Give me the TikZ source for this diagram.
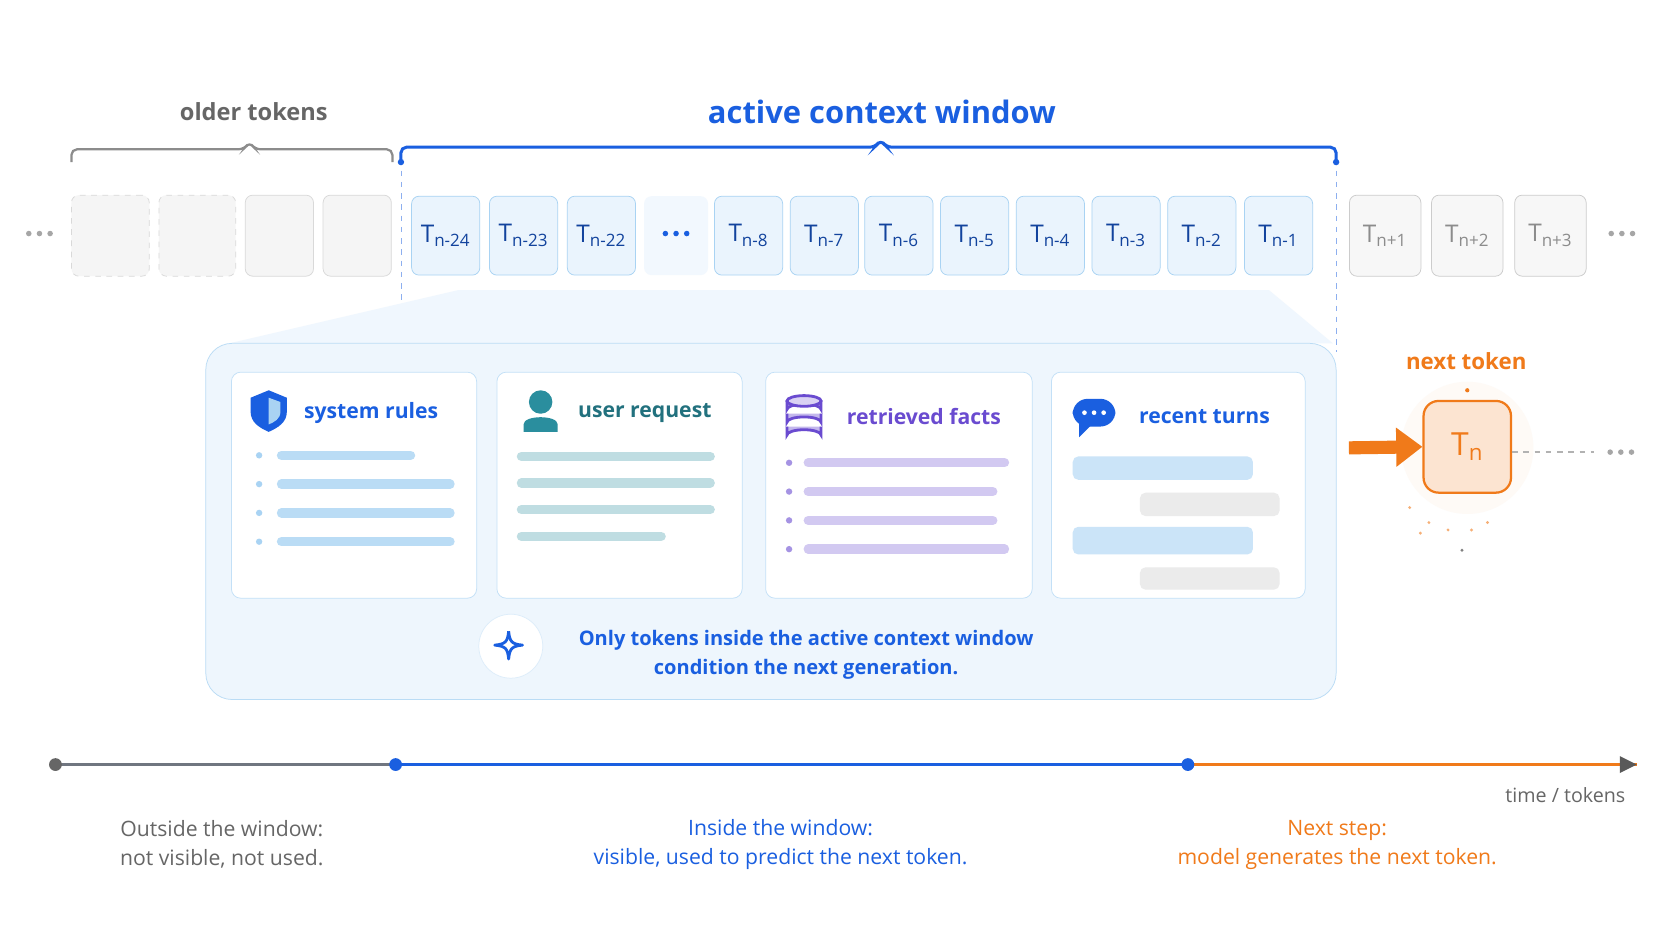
\documentclass[tikz,border=0pt]{standalone}
\usepackage{fontspec}
\setmainfont{Open Sans}
\usetikzlibrary{positioning,arrows.meta,calc}
\definecolor{cblue}{HTML}{1A5FE0}
\definecolor{lblue}{HTML}{EAF4FD}
\definecolor{bblue}{HTML}{A9D3F3}
\definecolor{corange}{HTML}{F07A1A}
\definecolor{cgray}{HTML}{707680}
\definecolor{cpurple}{HTML}{6A4BD0}
\definecolor{cteal}{HTML}{2A8E9E}
\tikzset{
  tok/.style={draw=bblue,fill=lblue,rounded corners=4pt,minimum width=64\pxu,minimum height=74\pxu,inner sep=0pt,font=\fontsize{13}{13}\selectfont,text=cblue!70!black},
  oldtok/.style={draw=black!15,fill=black!4,rounded corners=4pt,minimum height=76\pxu,inner sep=0pt},
  futtok/.style={draw=black!20,fill=black!3,rounded corners=4pt,minimum width=67\pxu,minimum height=76\pxu,inner sep=0pt,font=\fontsize{13}{13}\selectfont,text=black!45},
  card/.style={draw=bblue!70,fill=white,rounded corners=5pt},
  cardtitle/.style={font=\fontsize{11.3}{11.3}\selectfont\bfseries,anchor=west},
  bar/.style={line width=5pt,line cap=round},
  dots/.pic={\foreach \d in {-10,0,10} \fill (\d,0) circle (2.6);},
}
\newlength{\pxu}\setlength{\pxu}{0.02cm}
\begin{document}
\begin{tikzpicture}[x=0.02cm,y=-0.02cm]
\useasboundingbox (0,0) rectangle (1568,882);
\fill[white] (0,0) rectangle (1568,882);
% older tokens
\foreach \xa/\xb/\st in {67/140/dashed,149/221/dashed,230/294/solid,303/367/solid}
  \node[oldtok,\st,minimum width={(\xb-\xa)*\pxu}] (o\xa) at ({(\xa+\xb)/2},221) {};
\pic[black!35] at (37,219) {dots};
\node[font=\fontsize{12.6}{12.6}\selectfont\bfseries,text=black!60] (oldlab) at (238,105) {older tokens};
\draw[black!45,line width=1.2pt,rounded corners=3pt] (67,152) -- (67,140) -- (229,140) -- (234,133) -- (239,140) -- (368,140) -- (368,152);
% active window
\node[font=\fontsize{16.5}{16.5}\selectfont\bfseries,text=cblue] (actlab) at (827,105) {active context window};
\draw[cblue,line width=1.6pt,rounded corners=3pt] (376,152) -- (376,138) -- (821,138) -- (826,131) -- (831,138) -- (1253,138) -- (1253,152);
\fill[cblue] (376,152) circle (3) (1253,152) circle (3);
\draw[cblue!50,dashed] (376,160) -- (376,320) (1253,160) -- (1253,330);
\fill[lblue!70] (430,272) -- (1190,272) -- (1250,322) -- (215,322) -- cycle;
\foreach \x/\l in {418/24,491/23,564/22,702/8,773/7,843/6,914/5,985/4,1056/3,1127/2,1199/1}
  \node[tok] (t\l) at (\x,221) {T\textsubscript{n-\l}};
\node[fill=lblue!60,rounded corners=4pt,minimum width=60\pxu,minimum height=74\pxu] (tdots) at (634,221) {};
\pic[cblue] at (634,219) {dots};
% future tokens
\foreach \x/\l in {1299/1,1376/2,1454/3}
  \node[futtok] (f\l) at (\x,221) {T\textsubscript{n+\l}};
\pic[black!35] at (1521,219) {dots};
% panel
\draw[bblue!80,fill=lblue!80,rounded corners=14pt] (193,322) rectangle (1253,656);
\draw[card] (217,349) rectangle (447,561);
\draw[card] (466,349) rectangle (696,561);
\draw[card] (718,349) rectangle (968,561);
\draw[card] (986,349) rectangle (1224,561);
% system rules
\fill[cblue] (252,366) -- (269,373) -- (269,386) .. controls (269,396) and (261,401) .. (252,405) .. controls (243,401) and (235,396) .. (235,386) -- (235,373) -- cycle;
\fill[bblue] (252,373) -- (263,377) -- (263,386) .. controls (263,393) and (257,396) .. (252,398) -- cycle;
\node[cardtitle,text=cblue] (sys) at (279,387) {system rules};
\foreach \y/\e in {427/385,454/422,481/422,508/422}{
  \fill[bblue] (243,\y) circle (3);
  \draw[bar,bblue!80] (264,\y) -- (\e,\y);}
% user request
\fill[cteal] (507,377) circle (11);
\fill[cteal] (491,405) -- (491,398) .. controls (491,389) and (523,389) .. (523,398) -- (523,405) -- cycle;
\node[cardtitle,text=cteal!80!black] (usr) at (536,387) {user request};
\foreach \y/\e in {428/666,453/666,478/666,503/620}
  \draw[bar,cteal!30] (489,\y) -- (\e,\y);
% retrieved facts
\foreach \y in {376,388,400}
  \draw[cpurple,fill=cpurple!40,line width=1.5pt] (738,\y) -- (738,\y+8) arc[start angle=180,end angle=360,x radius=16,y radius=5] -- (770,\y);
\draw[cpurple,fill=cpurple!25,line width=1.5pt] (754,376) ellipse (16 and 5);
\node[cardtitle,text=cpurple] (ret) at (788,391) {retrieved facts};
\foreach \y/\e in {434/942,461/931,488/931,515/942}{
  \fill[cpurple!60] (740,\y) circle (3);
  \draw[bar,cpurple!30] (758,\y) -- (\e,\y);}
% recent turns
\fill[cblue,rounded corners=8pt] (1006,374) rectangle (1046,400);
\fill[cblue] (1012,396) -- (1012,410) -- (1024,398) -- cycle;
\foreach \x in {1017,1026,1035} \fill[white] (\x,387) circle (2.2);
\node[cardtitle,text=cblue] (rec) at (1062,391) {recent turns};
\fill[bblue!60,rounded corners=3pt] (1006,428) rectangle (1175,450);
\fill[black!8,rounded corners=3pt] (1069,462) rectangle (1200,484);
\fill[bblue!60,rounded corners=3pt] (1006,494) rectangle (1175,520);
\fill[black!8,rounded corners=3pt] (1069,532) rectangle (1200,553);
% footer note
\node[circle,fill=white,draw=bblue!40,minimum size=60\pxu] (spark) at (479,606) {};
\draw[cblue,line width=1.5pt,line join=round] (477,592) .. controls (478,602) and (480,604) .. (490,605) .. controls (480,606) and (478,608) .. (477,618) .. controls (476,608) and (474,606) .. (464,605) .. controls (474,604) and (476,602) .. (477,592);
\node[font=\fontsize{10.7}{15.5}\selectfont\bfseries,text=cblue,align=center] (note) at (756,614) {Only tokens inside the active context window\\condition the next generation.};
% next token
\node[font=\fontsize{11.9}{11.9}\selectfont\bfseries,text=corange] (nextlab) at (1375,339) {next token};
\fill[corange!4] (1376,420) circle (62);
\node[draw=corange,line width=1.2pt,fill=corange!20,rounded corners=8pt,minimum width=82\pxu,minimum height=86\pxu,font=\fontsize{17}{17}\selectfont,text=corange] (tn) at (1376,419) {T\textsubscript{n}};
\fill[corange] (1376,366) circle (2);
\foreach \p in {(1322,476),(1340,490),(1358,497),(1380,497),(1395,490),(1332,500)} \fill[corange!60] \p circle (1.5);
\fill[black!50] (1371,516) circle (1.5);
\coordinate (arrs) at (1265,420);
\draw[corange,line width=7pt,-{Triangle[length=14pt,width=20pt]}] (arrs) -- (tn.west);
\coordinate (dend) at (1495,424);
\draw[black!30,dashed,line width=1pt] (tn.east |- dend) -- (dend);
\pic[black!35] at (1520,424) {dots};
% timeline
\coordinate (t0) at (52,717);
\coordinate (t1) at (371,717);
\coordinate (t2) at (1114,717);
\coordinate (t3) at (1535,717);
\draw[cgray,line width=1.2pt] (t0) -- (t1);
\draw[cblue,line width=1.5pt] (t1) -- (t2);
\draw[corange,line width=1.5pt] (t2) -- (t3);
\fill[black!65] (t3) -- ++(-16,-8) -- ++(0,16) -- cycle;
\fill[black!60] (t0) circle (6);
\fill[cblue] (t1) circle (6) (t2) circle (6);
\node[font=\fontsize{10.5}{10.5}\selectfont,text=black!60] (axlab) at (1468,746) {time / tokens};
\node[font=\fontsize{11.3}{15.5}\selectfont,text=black!60,align=center] (outlab) at (208,792) {Outside the window:\\not visible, not used.};
\node[font=\fontsize{11.3}{15.5}\selectfont,text=cblue,align=center] (inlab) at (732,792) {Inside the window:\\visible, used to predict the next token.};
\node[font=\fontsize{11.3}{15.5}\selectfont,text=corange,align=center] (nxlab) at (1254,792) {Next step:\\model generates the next token.};
\end{tikzpicture}
\end{document}
